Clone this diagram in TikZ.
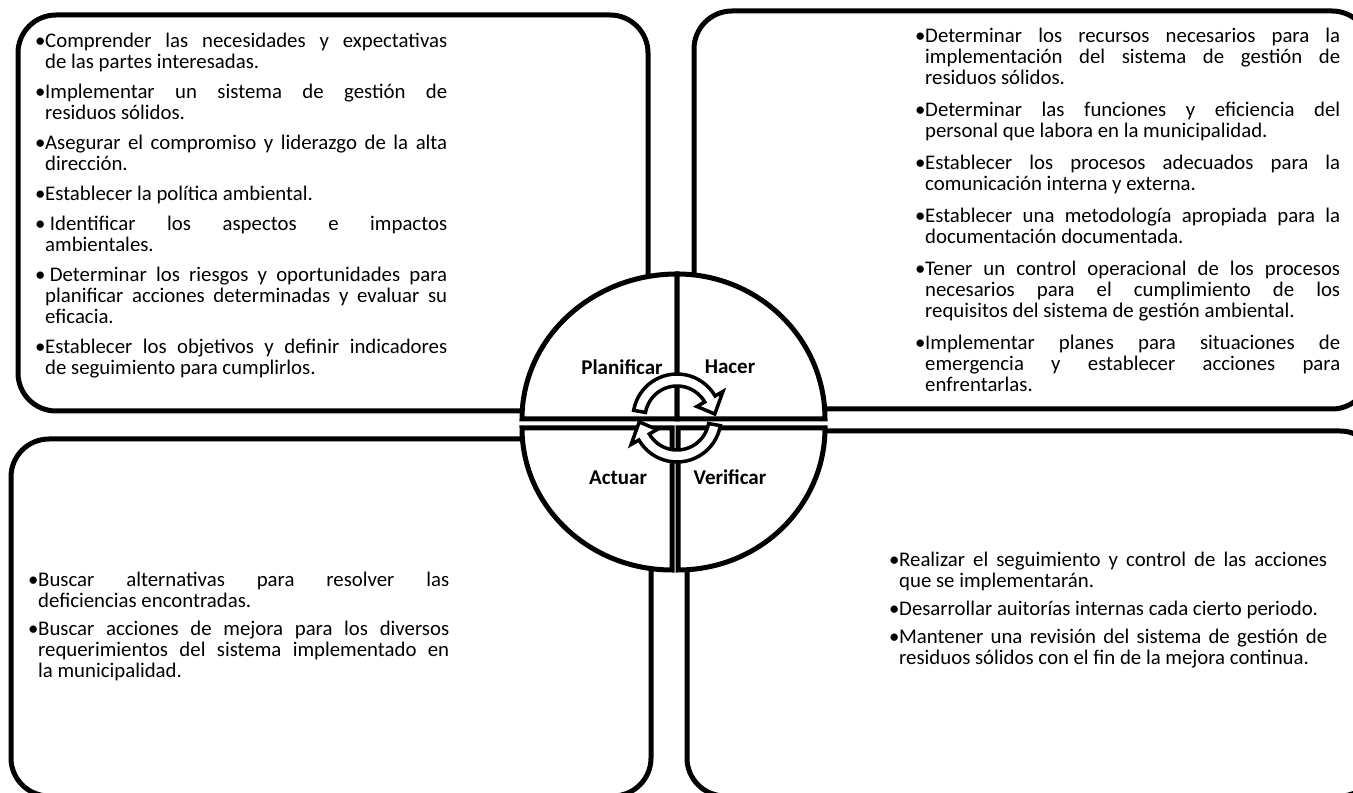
\documentclass[tikz,border=0pt]{standalone}
\usepackage{fontspec}
\setmainfont{Carlito}
\usetikzlibrary{calc}
\tikzset{
  frame/.style={draw=black, line width=5pt, fill=white, line join=miter},
  roundframe/.style={frame, rounded corners=38pt},
  arrowshape/.style={draw=black, line width=3.5pt, fill=white, line join=miter},
  lbl/.style={font=\fontsize{21}{25}\selectfont\bfseries, inner sep=0pt},
  txt/.style={anchor=north west, inner sep=0pt,
    font={\fontsize{20.8}{21}\selectfont\lineskiplimit=-50pt\lineskip=0pt}},
}
\newlength\bw \setlength\bw{10pt}
\newlength\itemgap \setlength\itemgap{9pt}
\newcommand\flexsp{\spaceskip=0pt\xspaceskip=0pt\relax}
\newcommand\bjl[1]{\noindent\flexsp\rule{0pt}{15pt}\makebox[\bw][l]{•}\makebox[\dimexpr\hsize-\bw][s]{#1}\par}
\newcommand\brl[1]{\noindent\flexsp\rule{0pt}{15pt}\makebox[\bw][l]{•}\mbox{#1}\par}
\newcommand\cjl[1]{\noindent\flexsp\hspace*{\bw}\makebox[\dimexpr\hsize-\bw][s]{#1}\par}
\newcommand\crl[1]{\noindent\flexsp\hspace*{\bw}\mbox{#1}\par}
\newcommand\gap{\vspace{\itemgap}}
\begin{document}
\begin{tikzpicture}[x=1pt,y=1pt]
\useasboundingbox (0,0) rectangle (1353,793);
\clip (0,0) rectangle (1353,793);
% boxes
\draw[roundframe] (18,382) rectangle (648,778);
\draw[roundframe] (694,384) rectangle (1370,782);
\draw[roundframe] (11,-3) rectangle (651,354);
\draw[roundframe] (687,-3) rectangle (1378,362);
% quadrants
\draw[frame] (677,374) -- (522,374) arc[start angle=180, end angle=90, x radius=155, y radius=145] -- cycle;
\draw[frame] (677,374) -- (677,519) arc[start angle=90, end angle=0, x radius=148, y radius=145] -- cycle;
\draw[frame] (672,365) -- (522,365) arc[start angle=180, end angle=270, x radius=150, y radius=142] -- cycle;
\draw[frame] (678,365) -- (678,223) arc[start angle=270, end angle=360, x radius=147, y radius=142] -- cycle;
% circular arrows
\coordinate (ac) at (677,375);
\draw[arrowshape] ($(ac)+(170:44)$) arc[start angle=170, end angle=30, radius=44]
  -- ($(ac)+(30:53)$) -- ($(ac)+(6:38)$) -- ($(ac)+(30:23)$) -- ($(ac)+(30:32)$)
  arc[start angle=30, end angle=170, radius=32] -- cycle;
\draw[arrowshape] ($(ac)+(-10:44)$) arc[start angle=-10, end angle=-150, radius=44]
  -- ($(ac)+(-150:53)$) -- ($(ac)+(-174:38)$) -- ($(ac)+(-150:23)$) -- ($(ac)+(-150:32)$)
  arc[start angle=-150, end angle=-10, radius=32] -- cycle;
% labels
\node[lbl] (plan) at (622,426) {Planificar};
\node[lbl] (hacer) at (730,426) {Hacer};
\node[lbl] (actuar) at (618,315) {Actuar};
\node[lbl] (verif) at (730,316) {Verificar};
% texts
\node[txt, text width=412pt] (tl) at (35,761) {%
\bjl{Comprender las necesidades y expectativas}
\crl{de las partes interesadas.}
\gap
\bjl{Implementar un sistema de gestión de}
\crl{residuos sólidos.}
\gap
\bjl{Asegurar el compromiso y liderazgo de la alta}
\crl{dirección.}
\gap
\brl{Establecer la política ambiental.}
\gap
\bjl{\hspace*{4.7pt}Identificar los aspectos e impactos}
\crl{ambientales.}
\gap
\bjl{\hspace*{4.7pt}Determinar los riesgos y oportunidades para}
\cjl{planificar acciones determinadas y evaluar su}
\crl{eficacia.}
\gap
\bjl{Establecer los objetivos y definir indicadores}
\crl{de seguimiento para cumplirlos.}};
\node[txt, text width=425pt] (tr) at (915,766) {\setlength\itemgap{11pt}%
\bjl{Determinar los recursos necesarios para la}
\cjl{implementación del sistema de gestión de}
\crl{residuos sólidos.}
\gap
\bjl{Determinar las funciones y eficiencia del}
\crl{personal que labora en la municipalidad.}
\gap
\bjl{Establecer los procesos adecuados para la}
\crl{comunicación interna y externa.}
\gap
\bjl{Establecer una metodología apropiada para la}
\crl{documentación documentada.}
\gap
\bjl{Tener un control operacional de los procesos}
\cjl{necesarios para el cumplimiento de los}
\crl{requisitos del sistema de gestión ambiental.}
\gap
\bjl{Implementar planes para situaciones de}
\cjl{emergencia y establecer acciones para}
\crl{enfrentarlas.}};
\node[txt, text width=421pt] (bl) at (28,222) {\setlength\itemgap{7pt}%
\bjl{Buscar alternativas para resolver las}
\crl{deficiencias encontradas.}
\gap
\bjl{Buscar acciones de mejora para los diversos}
\cjl{requerimientos del sistema implementado en}
\crl{la municipalidad.}};
\node[txt, text width=438pt] (br) at (889,242) {\setlength\itemgap{7pt}%
\bjl{Realizar el seguimiento y control de las acciones}
\crl{que se implementarán.}
\gap
\brl{Desarrollar auitorías internas cada cierto periodo.}
\gap
\bjl{Mantener una revisión del sistema de gestión de}
\crl{residuos sólidos con el fin de la mejora continua.}};
\end{tikzpicture}
\end{document}
